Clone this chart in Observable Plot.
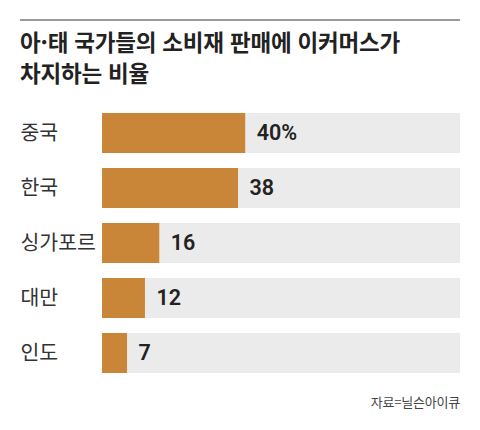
<!DOCTYPE html>
<html lang="ko">
<head>
<meta charset="utf-8">
<script src="https://cdn.jsdelivr.net/npm/d3@7"></script>
<script src="https://cdn.jsdelivr.net/npm/@observablehq/plot@0.6"></script>
<style>
  body { margin: 0; background: #fff; width: 480px; font-family: "Noto Sans CJK KR", sans-serif; }
  .rule { margin: 19px 20px 0 20px; border-top: 2px solid #9a9a9a; }
  .title { margin: 5px 20px 0 20px; font-size: 22.5px; line-height: 31px; font-weight: 700; color: #222; letter-spacing: -0.2px; }
  .source { margin: 16px 20px 0 20px; text-align: right; font-size: 13px; line-height: 16px; color: #444; letter-spacing: -0.2px; }
</style>
</head>
<body>
<div class="rule"></div>
<div class="title">아·태 국가들의 소비재 판매에 이커머스가<br>차지하는 비율</div>
<div id="chart"></div>
<div class="source">자료=닐슨아이큐</div>
<script>
// 이커머스 비중 (%)
const countries = ["중국", "한국", "싱가포르", "대만", "인도"];
const shares = [40, 38, 16, 12, 7];
const full = 100;

const data = countries.map((country, i) => ({ country, value: shares[i] }));

const chart = Plot.plot({
  width: 480,
  height: 290,
  marginLeft: 102,
  marginRight: 20,
  marginTop: 25,
  marginBottom: 5,
  style: { display: "block", background: "transparent" },
  x: { domain: [0, full], axis: null },
  y: { domain: countries, axis: null, paddingInner: 15 / 55, paddingOuter: 0 },
  marks: [
    Plot.barX(data, { x1: 0, x2: () => full, y: "country", fill: "#ebebeb", insetTop: 0, insetBottom: 0 }),
    Plot.barX(data, { x1: 0, x2: "value", y: "country", fill: "#c98638", insetTop: 0, insetBottom: 0 }),
    Plot.text(data, {
      x: "value",
      y: "country",
      text: (d, i) => i === 0 ? d.value + "%" : String(d.value),
      textAnchor: "start",
      dx: 11,
      fontSize: 21.5,
      fontWeight: 600,
      fontFamily: "Roboto, sans-serif",
      fill: "#222"
    }),
    Plot.text(data, {
      y: "country",
      text: "country",
      frameAnchor: "left",
      textAnchor: "start",
      dx: -82,
      fontSize: 20.5,
      fontFamily: "'Noto Sans CJK KR', sans-serif",
      fill: "#333"
    })
  ]
});

document.getElementById("chart").appendChild(chart);
</script>
</body>
</html>
